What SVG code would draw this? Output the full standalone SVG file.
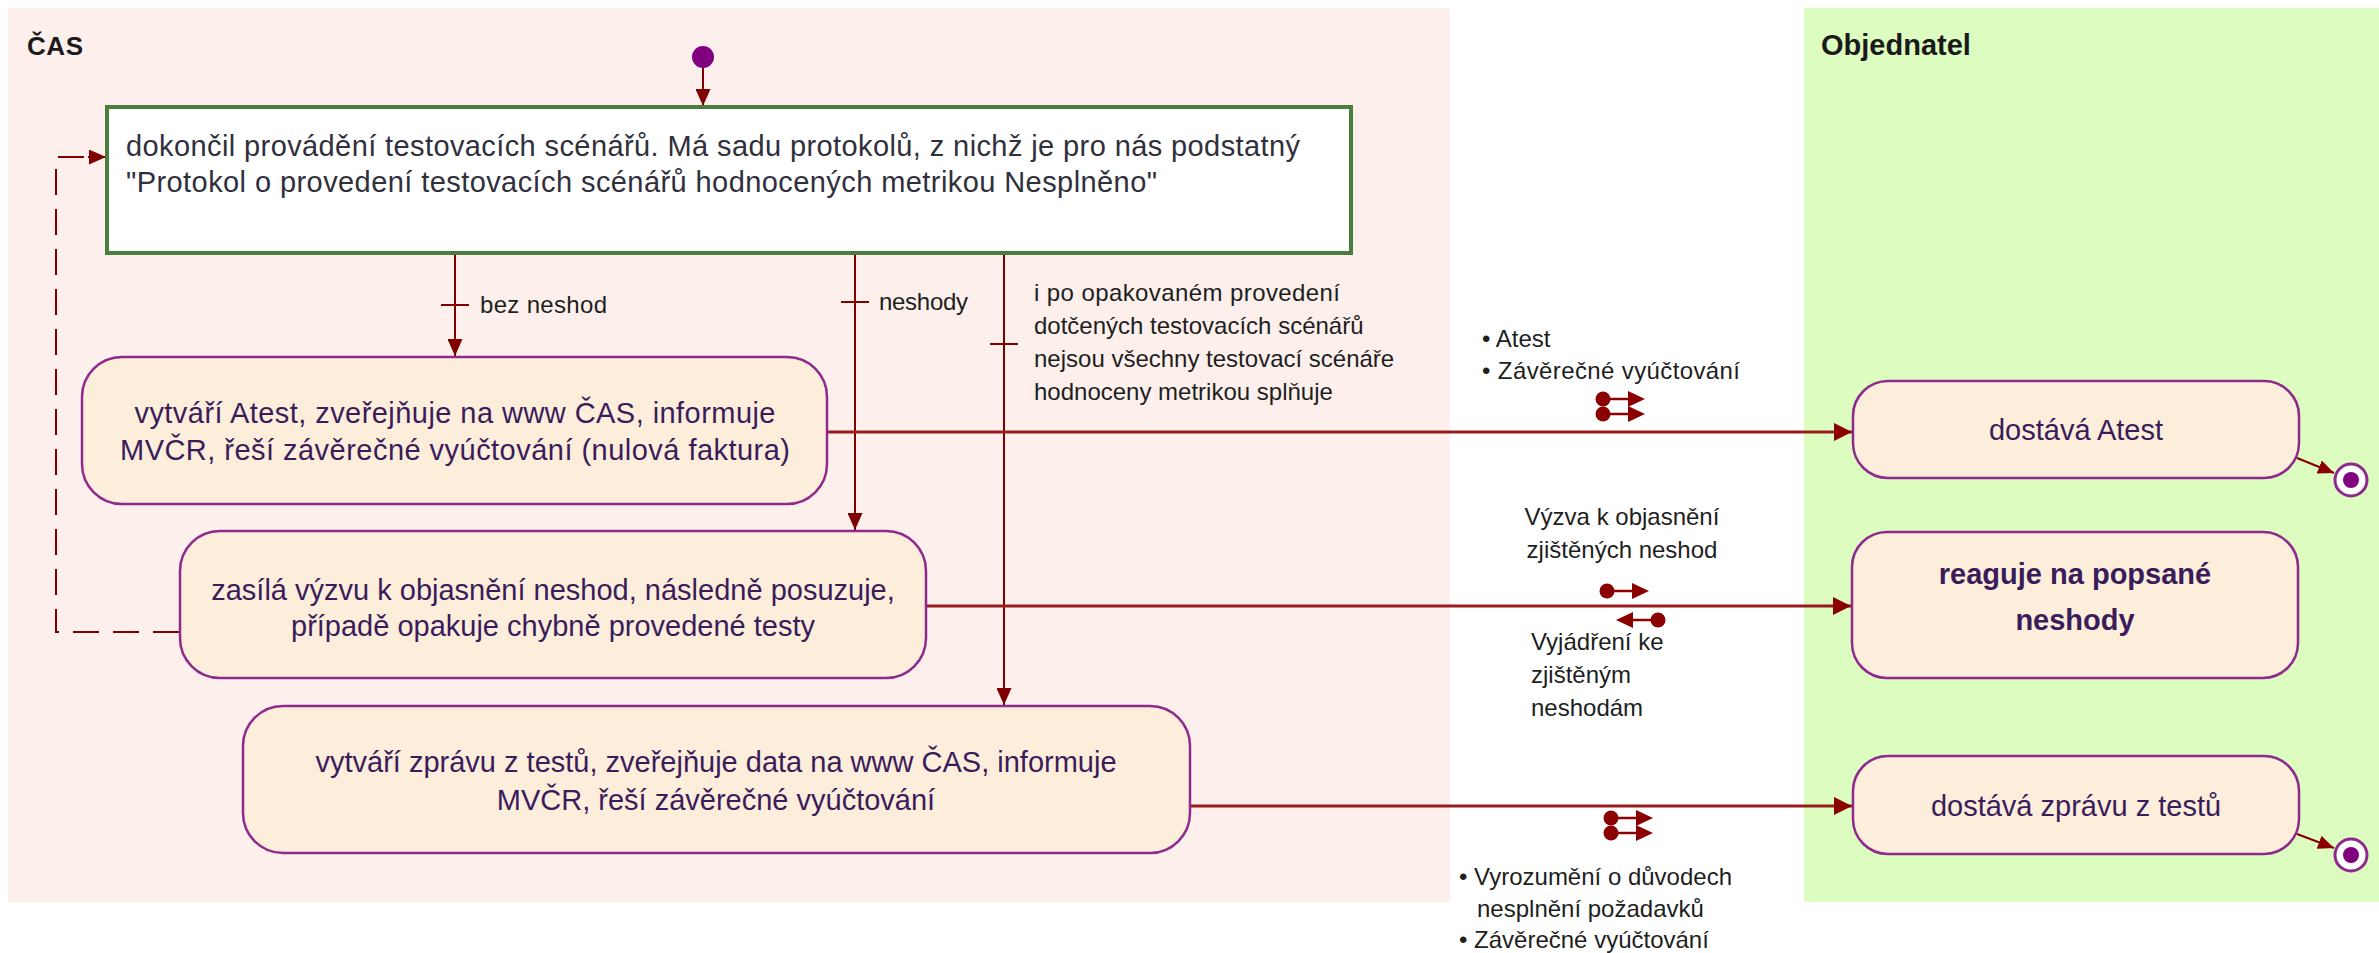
<svg xmlns="http://www.w3.org/2000/svg" width="2379" height="953" viewBox="0 0 2379 953">
<style>
.pool-cas{fill:#FDF0EC}
.pool-obj{fill:#DDFCC0}
.title{font-family:"Liberation Sans",Arial,sans-serif;font-weight:bold;font-size:26px;fill:#1a1a1a}
.node{fill:#FDEEDC;stroke:#8E2A8E;stroke-width:2.5}
.ntext{font-family:"Liberation Sans",Arial,sans-serif;font-size:29px;fill:#3B1C5A;text-anchor:middle}
.nbold{font-weight:bold}
.mtext{font-family:"Liberation Sans",Arial,sans-serif;font-size:29px;fill:#30303C}
.lbl{font-family:"Liberation Sans",Arial,sans-serif;font-size:24px;fill:#1e1e1e}
.conn{fill:none;stroke:#800000;stroke-width:2}
.hconn{fill:none;stroke:#981C1C;stroke-width:3}
.dash{fill:none;stroke:#800000;stroke-width:2;stroke-dasharray:26 14}
.tick{stroke:#800000;stroke-width:2}
</style>
<defs>
<marker id="arr" viewBox="0 0 17 15" refX="17" refY="7.5" markerWidth="17" markerHeight="15" markerUnits="userSpaceOnUse" orient="auto"><path d="M0,0 L17,7.5 L0,15 z" fill="#800000"/></marker>
<marker id="arrH" viewBox="0 0 18 18" refX="18" refY="9" markerWidth="18" markerHeight="18" markerUnits="userSpaceOnUse" orient="auto"><path d="M0,0 L18,9 L0,18 z" fill="#8B0000"/></marker>
<marker id="arrS" viewBox="0 0 16 14" refX="16" refY="7" markerWidth="16" markerHeight="14" markerUnits="userSpaceOnUse" orient="auto"><path d="M0,0 L16,7 L0,14 z" fill="#8B0000"/></marker>
<g id="msgR">
<circle cx="0" cy="0" r="7.5" fill="#8B0000"/>
<line x1="0" y1="0" x2="28" y2="0" stroke="#8B0000" stroke-width="2.5"/>
<path d="M25,-8 L42,0 L25,8 z" fill="#8B0000"/>
</g>
</defs>

<g id="lanes">
<rect id="lane-cas" class="pool-cas" x="8" y="8" width="1442" height="894"/>
<rect id="lane-objednatel" class="pool-obj" x="1804" y="8" width="575" height="894"/>
<text class="title" x="27" y="55" textLength="56">ČAS</text>
<text class="title" x="1821" y="55" style="font-size:29px">Objednatel</text>
</g>

<g id="connectors">
<line class="conn" x1="703" y1="62" x2="703" y2="106" marker-end="url(#arr)"/>
<line class="conn" x1="455" y1="255" x2="455" y2="356" marker-end="url(#arr)"/>
<line class="tick" x1="441" y1="305" x2="469" y2="305"/>
<line class="conn" x1="855" y1="255" x2="855" y2="530" marker-end="url(#arr)"/>
<line class="tick" x1="841" y1="302" x2="869" y2="302" stroke="#B8505A"/>
<line class="conn" x1="1004" y1="255" x2="1004" y2="705" marker-end="url(#arr)"/>
<line class="tick" x1="990" y1="344" x2="1018" y2="344"/>
<line class="hconn" x1="828" y1="432" x2="1852" y2="432" marker-end="url(#arrH)"/>
<line class="hconn" x1="927" y1="606" x2="1851" y2="606" marker-end="url(#arrH)"/>
<line class="hconn" x1="1191" y1="806" x2="1852" y2="806" marker-end="url(#arrH)"/>
<path class="dash" d="M179,632 H56 V157 H88"/>
<line class="conn" x1="88" y1="157" x2="106" y2="157" marker-end="url(#arr)"/>
<line class="conn" x1="2297" y1="458" x2="2334" y2="473" stroke="#8B0000" stroke-width="2.5" marker-end="url(#arrS)"/>
<line class="conn" x1="2297" y1="834" x2="2334" y2="848" stroke="#8B0000" stroke-width="2.5" marker-end="url(#arrS)"/>
<use href="#msgR" x="1603" y="399"/>
<use href="#msgR" x="1603" y="414"/>
<use href="#msgR" x="1607" y="591"/>
<use href="#msgR" transform="translate(1658,620) scale(-1,1)"/>
<use href="#msgR" x="1611" y="818"/>
<use href="#msgR" x="1611" y="833"/>
</g>

<g id="labels">
<text class="lbl" x="480" y="313" textLength="127">bez neshod</text>
<text class="lbl" x="879" y="310" textLength="89">neshody</text>
<text class="lbl" x="1034" y="301" textLength="306">i po opakovaném provedení</text>
<text class="lbl" x="1034" y="334">dotčených testovacích scénářů</text>
<text class="lbl" x="1034" y="367">nejsou všechny testovací scénáře</text>
<text class="lbl" x="1034" y="400">hodnoceny metrikou splňuje</text>
<text class="lbl" x="1482" y="347">• Atest</text>
<text class="lbl" x="1482" y="379" textLength="258">• Závěrečné vyúčtování</text>
<text class="lbl" x="1622" y="525" text-anchor="middle">Výzva k objasnění</text>
<text class="lbl" x="1622" y="558" text-anchor="middle">zjištěných neshod</text>
<text class="lbl" x="1531" y="650">Vyjádření ke</text>
<text class="lbl" x="1531" y="683">zjištěným</text>
<text class="lbl" x="1531" y="716">neshodám</text>
<text class="lbl" x="1459" y="885">• Vyrozumění o důvodech</text>
<text class="lbl" x="1477" y="917">nesplnění požadavků</text>
<text class="lbl" x="1459" y="948">• Závěrečné vyúčtování</text>
</g>

<g id="start">
<circle cx="703" cy="57" r="11" fill="#800080"/>
</g>

<g id="node-dokoncil">
<rect x="107" y="107" width="1244" height="146" fill="#FFFFFF" stroke="#4B7D3C" stroke-width="4"/>
<text class="mtext" x="126" y="156" textLength="1174">dokončil provádění testovacích scénářů. Má sadu protokolů, z nichž je pro nás podstatný</text>
<text class="mtext" x="126" y="192" textLength="1031">"Protokol o provedení testovacích scénářů hodnocených metrikou Nesplněno"</text>
</g>

<g id="node-atest">
<rect class="node" x="82" y="357" width="745" height="147" rx="40"/>
<text class="ntext" x="455" y="423" textLength="641">vytváří Atest, zveřejňuje na www ČAS, informuje</text>
<text class="ntext" x="455" y="460" textLength="670">MVČR, řeší závěrečné vyúčtování (nulová faktura)</text>
</g>

<g id="node-vyzva">
<rect class="node" x="180" y="531" width="746" height="147" rx="40"/>
<text class="ntext" x="553" y="600">zasílá výzvu k objasnění neshod, následně posuzuje,</text>
<text class="ntext" x="553" y="636">případě opakuje chybně provedené testy</text>
</g>

<g id="node-zprava">
<rect class="node" x="243" y="706" width="947" height="147" rx="40"/>
<text class="ntext" x="716" y="772">vytváří zprávu z testů, zveřejňuje data na www ČAS, informuje</text>
<text class="ntext" x="716" y="810">MVČR, řeší závěrečné vyúčtování</text>
</g>

<g id="node-dostava-atest">
<rect class="node" x="1853" y="381" width="446" height="97" rx="35"/>
<text class="ntext" x="2076" y="440">dostává Atest</text>
</g>

<g id="node-reaguje">
<rect class="node" x="1852" y="532" width="446" height="146" rx="35"/>
<text class="ntext nbold" x="2075" y="584">reaguje na popsané</text>
<text class="ntext nbold" x="2075" y="630">neshody</text>
</g>

<g id="node-dostava-zpravu">
<rect class="node" x="1853" y="756" width="446" height="98" rx="35"/>
<text class="ntext" x="2076" y="816">dostává zprávu z testů</text>
</g>

<g id="end-1">
<circle cx="2351" cy="480" r="16" fill="#FFFFFF" stroke="#8E2A8E" stroke-width="3"/>
<circle cx="2351" cy="480" r="8" fill="#800080"/>
</g>
<g id="end-2">
<circle cx="2351" cy="855" r="16" fill="#FFFFFF" stroke="#8E2A8E" stroke-width="3"/>
<circle cx="2351" cy="855" r="8" fill="#800080"/>
</g>
</svg>
